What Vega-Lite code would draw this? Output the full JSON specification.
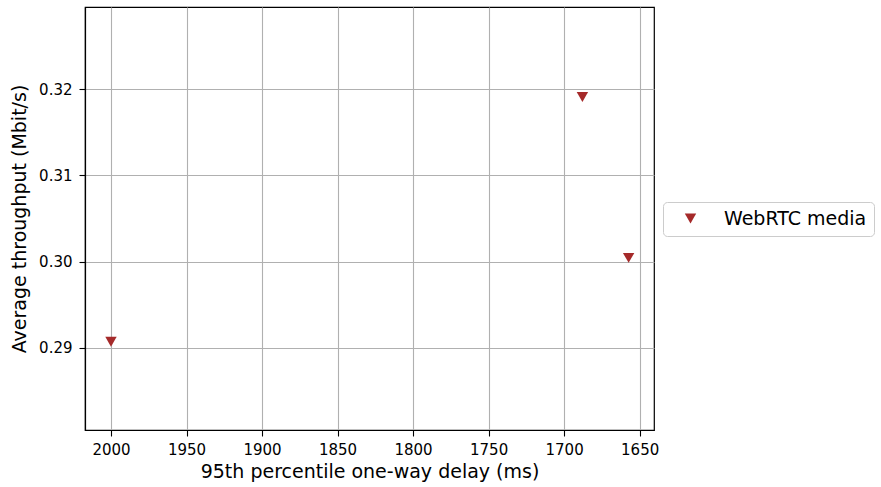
{
  "$schema": "https://vega.github.io/schema/vega-lite/v6.json",
  "width": 569,
  "height": 423,
  "autosize": {"type": "none"},
  "padding": {"left": 85, "top": 7, "right": 227, "bottom": 57},
  "background": "white",
  "config": {
    "font": "DejaVu Sans",
    "view": {"stroke": "black", "strokeWidth": 1.2},
    "axis": {
      "domainColor": "black",
      "domainWidth": 1.2,
      "tickColor": "black",
      "tickSize": 6,
      "tickWidth": 1.1,
      "labelColor": "black",
      "labelFontSize": 15,
      "labelFont": "DejaVu Sans",
      "titleFont": "DejaVu Sans",
      "titleFontSize": 19,
      "titleFontWeight": "normal",
      "titleColor": "black",
      "gridColor": "#b0b0b0",
      "gridWidth": 1.1
    }
  },
  "data": {
    "values": [
      {"delay": 2000.0, "throughput": 0.2907, "series": "WebRTC media"},
      {"delay": 1687.9, "throughput": 0.3191, "series": "WebRTC media"},
      {"delay": 1657.3, "throughput": 0.30043, "series": "WebRTC media"}
    ]
  },
  "mark": {"type": "point", "shape": "triangle-down", "filled": true, "size": 130, "opacity": 1},
  "encoding": {
    "x": {
      "field": "delay",
      "type": "quantitative",
      "scale": {"domain": [1640.5, 2017.2], "reverse": true, "nice": false, "zero": false},
      "axis": {
        "values": [2000, 1950, 1900, 1850, 1800, 1750, 1700, 1650],
        "format": "d",
        "title": "95th percentile one-way delay (ms)",
        "titlePadding": 5,
        "labelPadding": 6
      }
    },
    "y": {
      "field": "throughput",
      "type": "quantitative",
      "scale": {"domain": [0.28046, 0.32955], "nice": false, "zero": false},
      "axis": {
        "values": [0.29, 0.30, 0.31, 0.32],
        "format": ".2f",
        "title": "Average throughput (Mbit/s)",
        "titlePadding": 9,
        "labelPadding": 7
      }
    },
    "color": {
      "field": "series",
      "type": "nominal",
      "scale": {"domain": ["WebRTC media"], "range": ["#a52a2a"]},
      "legend": {
        "title": null,
        "orient": "none",
        "legendX": 578,
        "legendY": 195,
        "symbolType": "triangle-down",
        "symbolSize": 130,
        "symbolFillColor": "#a52a2a",
        "symbolStrokeWidth": 0,
        "symbolOffset": 11,
        "labelFontSize": 19,
        "labelFont": "DejaVu Sans",
        "labelColor": "black",
        "labelOffset": 24,
        "strokeColor": "#cccccc",
        "fillColor": "white",
        "cornerRadius": 4,
        "padding": 7,
        "offset": 0
      }
    }
  }
}
